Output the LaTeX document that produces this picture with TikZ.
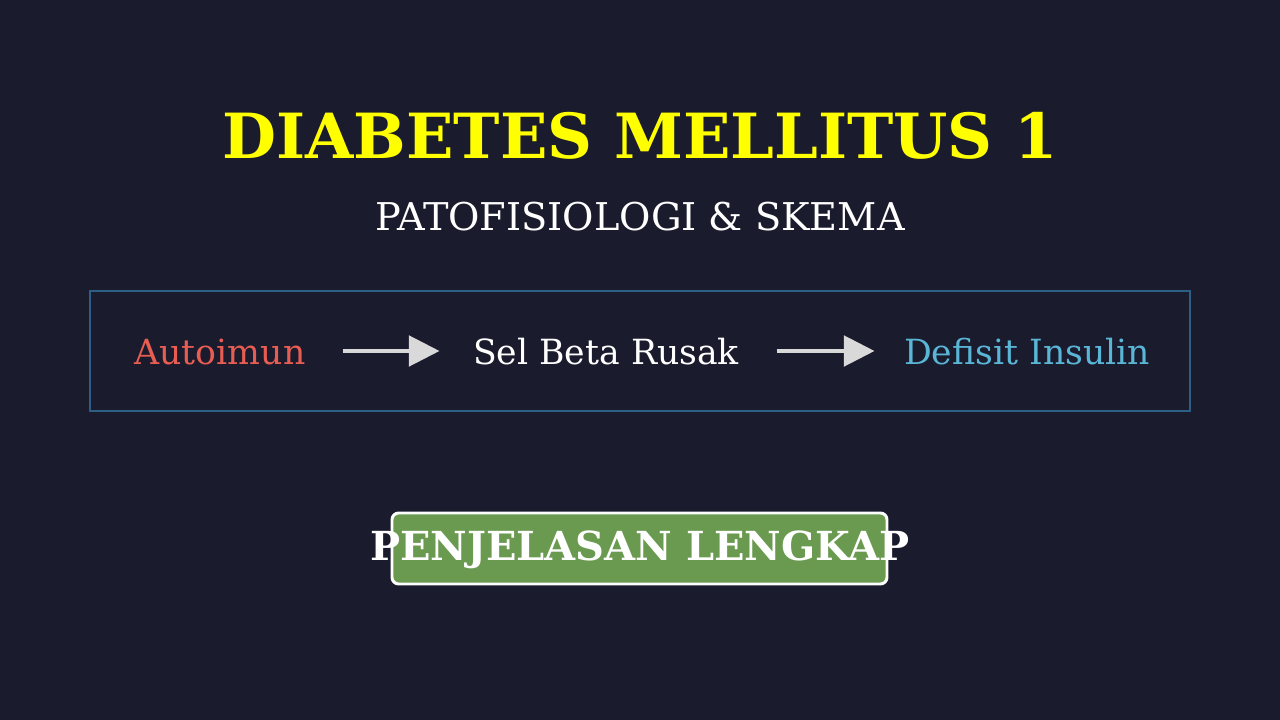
\documentclass[tikz,border=0pt]{standalone}
\usepackage{fontspec}
\setmainfont{DejaVu Serif}
\usetikzlibrary{arrows.meta, positioning}
\definecolor{bgnavy}{HTML}{1B1B2E}
\definecolor{titleyellow}{HTML}{FFFF00}
\definecolor{autored}{HTML}{E85D52}
\definecolor{insulinblue}{HTML}{5AB6D6}
\definecolor{boxblue}{HTML}{2D5F86}
\definecolor{btngreen}{HTML}{6A9A4F}
\definecolor{arrowgray}{HTML}{D9D9D9}
\tikzset{
    flowlabel/.style={ % Text of each step in the row
    anchor=base, inner sep=0pt,
    font=\fontsize{26}{30}\selectfont},
    flowarrow/.style={ % Arrow between two steps
    draw=arrowgray, line width=2.4pt,
    -{Triangle[length=23pt, width=23pt]}}}

\begin{document}
\begin{tikzpicture}[x=0.75pt, y=-0.75pt]
    % Background
    \fill[bgnavy] (0, 0) rectangle (1280, 720);
    \useasboundingbox (0, 0) rectangle (1280, 720);

    % Title
    \node[anchor=base, inner sep=0pt, text=titleyellow,
        font=\fontsize{46.7}{52}\bfseries\selectfont] (title) at (640, 159) {DIABETES MELLITUS 1};
    \node[anchor=base, inner sep=0pt, text=white,
        font=\fontsize{28.7}{32}\selectfont] (subtitle) at (640, 230) {PATOFISIOLOGI \& SKEMA};

    % Flow row
    \draw[boxblue, line width=1.2pt] (90, 291) rectangle (1190, 411);
    \node[flowlabel, text=autored] (autoimun) at (220, 364) {Autoimun};
    \node[flowlabel, text=white] (selbeta) at (606, 364) {Sel Beta Rusak};
    \node[flowlabel, text=insulinblue] (defisit) at (1027, 364) {Defisit Insulin};
    \draw[flowarrow] ([xshift=28pt]autoimun.east |- 0, 351) -- ([xshift=-25pt]selbeta.west |- 0, 351);
    \draw[flowarrow] ([xshift=28pt]selbeta.east |- 0, 351) -- ([xshift=-22pt]defisit.west |- 0, 351);

    % Button
    \draw[white, fill=btngreen, line width=2.2pt, rounded corners=5pt] (392, 513) rectangle (887, 584);
    \node[anchor=base, inner sep=0pt, text=white,
        font=\fontsize{30}{34}\bfseries\selectfont] (btntext) at (640, 560) {PENJELASAN LENGKAP};
\end{tikzpicture}
\end{document}
